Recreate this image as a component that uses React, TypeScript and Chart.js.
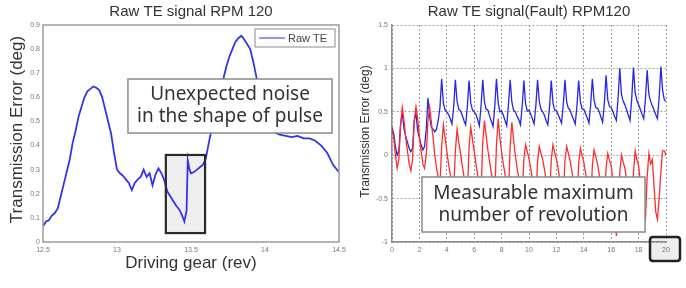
import React, { useEffect, useRef } from "react";
import { Chart, registerables } from "chart.js";
Chart.register(...registerables);

// ---------- Left chart data ----------
const leftTitle = "Raw TE signal RPM 120";
const leftXTitle = "Driving gear (rev)";
const leftYTitle = "Transmission Error (deg)";
const leftLegend = "Raw TE";
const leftNote = ["Unexpected noise", "in the shape of pulse"];
const gearRev = [
  12.5, 12.52, 12.54, 12.56, 12.58, 12.6, 12.62, 12.64, 12.66, 12.68, 12.7, 12.72, 12.74, 12.76, 12.78,
  12.8, 12.82, 12.84, 12.86, 12.88, 12.9, 12.92, 12.94, 12.96, 12.98, 13.0, 13.02, 13.04, 13.06, 13.08,
  13.1, 13.12, 13.14, 13.16, 13.18, 13.2, 13.22, 13.24, 13.26, 13.28, 13.3, 13.32, 13.34, 13.36, 13.38,
  13.4, 13.42, 13.44, 13.455, 13.47, 13.478, 13.49, 13.5, 13.52, 13.54, 13.56, 13.58, 13.6, 13.62, 13.64,
  13.66, 13.68, 13.7, 13.72, 13.74, 13.76, 13.78, 13.8, 13.82, 13.84, 13.86, 13.88, 13.9, 13.92, 13.94,
  13.96, 13.98, 14.0, 14.02, 14.04, 14.06, 14.08, 14.1, 14.14, 14.18, 14.22, 14.26, 14.3, 14.34, 14.38,
  14.42, 14.46, 14.5,
];
const rawTE = [
  0.065, 0.085, 0.09, 0.11, 0.12, 0.14, 0.19, 0.24, 0.29, 0.34, 0.41, 0.46, 0.52, 0.56, 0.6,
  0.625, 0.635, 0.645, 0.64, 0.63, 0.6, 0.55, 0.5, 0.45, 0.37, 0.3, 0.285, 0.275, 0.26, 0.245,
  0.215, 0.245, 0.26, 0.27, 0.3, 0.27, 0.285, 0.235, 0.28, 0.305, 0.285, 0.255, 0.21, 0.19, 0.17,
  0.15, 0.135, 0.11, 0.085, 0.13, 0.34, 0.3, 0.285, 0.29, 0.3, 0.31, 0.32, 0.345, 0.41, 0.47,
  0.54, 0.6, 0.64, 0.68, 0.73, 0.77, 0.8, 0.83, 0.845, 0.855, 0.84, 0.82, 0.8, 0.75, 0.69,
  0.63, 0.58, 0.54, 0.5, 0.47, 0.455, 0.45, 0.445, 0.44, 0.435, 0.44, 0.43, 0.43, 0.42, 0.4,
  0.37, 0.32, 0.29,
];
const pulseBox = { x0: 13.33, x1: 13.595, y0: 0.037, y1: 0.361 };
const leftNoteBox = { x0: 13.074, x1: 14.453, y0: 0.452, y1: 0.676 };

// ---------- Right chart data ----------
const rightTitle = "Raw TE signal(Fault) RPM120";
const rightYTitle = "Transmission Error (deg)";
const rightNote = ["Measurable maximum", "number of revolution"];
const revStep = 0.125;
const faultBlue = [
  0.32, 0.25, 0.1, 0.0, 0.05, 0.35, 0.5, 0.3,
  0.22, 0.15, 0.08, 0.04, 0.08, 0.4, 0.48, 0.28,
  0.2, 0.12, 0.06, 0.1, 0.3, 0.66, 0.45, 0.32,
  0.3, 0.27, 0.3, 0.4, 0.55, 0.88, 0.6, 0.52,
  0.5, 0.47, 0.42, 0.36, 0.55, 0.87, 0.62, 0.53,
  0.51, 0.46, 0.4, 0.35, 0.56, 0.86, 0.6, 0.52,
  0.5, 0.47, 0.41, 0.34, 0.57, 0.87, 0.61, 0.53,
  0.52, 0.45, 0.39, 0.33, 0.56, 0.88, 0.6, 0.5,
  0.51, 0.46, 0.4, 0.34, 0.58, 0.87, 0.61, 0.52,
  0.5, 0.45, 0.41, 0.35, 0.56, 0.86, 0.59, 0.51,
  0.52, 0.47, 0.42, 0.36, 0.57, 0.87, 0.62, 0.53,
  0.5, 0.46, 0.4, 0.35, 0.56, 0.86, 0.6, 0.52,
  0.51, 0.47, 0.42, 0.37, 0.58, 0.87, 0.61, 0.54,
  0.52, 0.46, 0.41, 0.36, 0.57, 0.86, 0.62, 0.53,
  0.53, 0.48, 0.43, 0.37, 0.58, 0.88, 0.63, 0.55,
  0.54, 0.5, 0.44, 0.38, 0.6, 0.92, 0.64, 0.56,
  0.55, 0.5, 0.45, 0.4, 0.65, 1.0, 0.7, 0.62,
  0.58, 0.52, 0.46, 0.4, 0.66, 1.01, 0.72, 0.63,
  0.58, 0.53, 0.47, 0.42, 0.65, 0.98, 0.7, 0.62,
  0.57, 0.52, 0.47, 0.42, 0.66, 1.02, 0.75, 0.64,
  0.62,
];
const faultRed = [
  0.3, 0.2, 0.0, -0.15, -0.05, 0.35, 0.55, 0.4,
  0.2, 0.05, -0.1, -0.18, -0.05, 0.4, 0.56, 0.42,
  0.22, 0.05, -0.1, -0.15, 0.0, 0.4, 0.55, 0.38,
  0.2, 0.0, -0.15, -0.25, -0.35, 0.1, 0.35, 0.2,
  0.05, -0.1, -0.22, -0.32, -0.42, 0.05, 0.3, 0.15,
  0.02, -0.12, -0.24, -0.34, -0.45, 0.1, 0.32, 0.18,
  0.05, -0.1, -0.22, -0.35, -0.44, 0.15, 0.4, 0.22,
  0.06, -0.08, -0.2, -0.33, -0.45, 0.12, 0.42, 0.2,
  0.04, -0.1, -0.22, -0.35, -0.46, 0.1, 0.38, 0.18,
  0.0, -0.14, -0.26, -0.38, -0.48, -0.05, 0.12, 0.04,
  -0.04, -0.15, -0.27, -0.38, -0.5, -0.08, 0.1, 0.02,
  -0.05, -0.16, -0.28, -0.4, -0.52, -0.05, 0.12, 0.03,
  -0.04, -0.15, -0.28, -0.4, -0.52, -0.06, 0.1, 0.02,
  -0.06, -0.18, -0.3, -0.42, -0.55, -0.1, 0.08, 0.0,
  -0.08, -0.2, -0.32, -0.45, -0.58, -0.12, 0.06, -0.02,
  -0.1, -0.22, -0.35, -0.5, -0.62, -0.15, 0.02, -0.06,
  -0.12, -0.3, -0.6, -0.93, -0.7, -0.2, 0.0, -0.08,
  -0.15, -0.3, -0.45, -0.6, -0.72, -0.2, 0.05, -0.05,
  -0.12, -0.3, -0.45, -0.62, -0.75, -0.25, 0.02, -0.1,
  -0.05, -0.35, -0.65, -0.74, -0.5, -0.2, 0.05, 0.05,
  0.0,
];
const rightNoteBox = { x0: 2.19, x1: 18.47, y0: -0.885, y1: -0.251 };
const markedTick = 20;

const SANS = '"Liberation Sans", Arial, sans-serif';
const NOTE_FONT = '"Noto Sans", "Open Sans", sans-serif';
const TEXT = "#333333";

const fmtTick = (v: any) => String(Math.round(Number(v) * 10) / 10);

function drawNote(ctx: CanvasRenderingContext2D, xs: any, ys: any, box: any, lines: string[]) {
  const l = xs.getPixelForValue(box.x0);
  const r = xs.getPixelForValue(box.x1);
  const t = ys.getPixelForValue(box.y1);
  const b = ys.getPixelForValue(box.y0);
  ctx.save();
  ctx.fillStyle = "#ffffff";
  ctx.fillRect(l, t, r - l, b - t);
  ctx.strokeStyle = "#8a8a8a";
  ctx.lineWidth = 1.5;
  ctx.strokeRect(l, t, r - l, b - t);
  ctx.fillStyle = TEXT;
  ctx.font = `19px ${NOTE_FONT}`;
  ctx.textAlign = "center";
  ctx.textBaseline = "middle";
  const cx = (l + r) / 2;
  const cy = (t + b) / 2;
  ctx.fillText(lines[0], cx, cy - 11);
  ctx.fillText(lines[1], cx, cy + 11);
  ctx.restore();
}

function drawTitle(ctx: CanvasRenderingContext2D, a: any, text: string) {
  ctx.save();
  ctx.fillStyle = TEXT;
  ctx.font = `15px ${SANS}`;
  ctx.textAlign = "center";
  ctx.textBaseline = "middle";
  ctx.fillText(text, (a.left + a.right) / 2, a.top - 13);
  ctx.restore();
}

function drawYTitle(ctx: CanvasRenderingContext2D, x: number, y: number, size: number, text: string) {
  ctx.save();
  ctx.translate(x, y);
  ctx.rotate(-Math.PI / 2);
  ctx.fillStyle = TEXT;
  ctx.font = `${size}px ${SANS}`;
  ctx.textAlign = "center";
  ctx.textBaseline = "middle";
  ctx.fillText(text, 0, 0);
  ctx.restore();
}

const leftPlugin = {
  id: "leftDecor",
  beforeDatasetsDraw(chart: any) {
    const { ctx, scales } = chart;
    const l = scales.x.getPixelForValue(pulseBox.x0);
    const r = scales.x.getPixelForValue(pulseBox.x1);
    const t = scales.y.getPixelForValue(pulseBox.y1);
    const b = scales.y.getPixelForValue(pulseBox.y0);
    ctx.save();
    ctx.fillStyle = "#efefef";
    ctx.fillRect(l, t, r - l, b - t);
    ctx.restore();
  },
  afterDraw(chart: any) {
    const { ctx, chartArea: a, scales } = chart;
    ctx.save();
    ctx.strokeStyle = "#9c9c9c";
    ctx.lineWidth = 1.5;
    ctx.strokeRect(a.left, a.top, a.right - a.left, a.bottom - a.top);
    // pulse highlight frame
    const l = scales.x.getPixelForValue(pulseBox.x0);
    const r = scales.x.getPixelForValue(pulseBox.x1);
    const t = scales.y.getPixelForValue(pulseBox.y1);
    const b = scales.y.getPixelForValue(pulseBox.y0);
    ctx.strokeStyle = "#2a2a2a";
    ctx.lineWidth = 2.2;
    ctx.strokeRect(l, t, r - l, b - t);
    // legend
    const lx0 = a.right - 84, lx1 = a.right - 4, ly0 = a.top + 4, ly1 = a.top + 22;
    ctx.fillStyle = "#ffffff";
    ctx.fillRect(lx0, ly0, lx1 - lx0, ly1 - ly0);
    ctx.strokeStyle = "#8a8a8a";
    ctx.lineWidth = 1;
    ctx.strokeRect(lx0, ly0, lx1 - lx0, ly1 - ly0);
    ctx.strokeStyle = "#5050ff";
    ctx.lineWidth = 1.2;
    ctx.beginPath();
    ctx.moveTo(lx0 + 4, (ly0 + ly1) / 2);
    ctx.lineTo(lx0 + 30, (ly0 + ly1) / 2);
    ctx.stroke();
    ctx.fillStyle = "#444";
    ctx.font = `11px ${SANS}`;
    ctx.textAlign = "left";
    ctx.textBaseline = "middle";
    ctx.fillText(leftLegend, lx0 + 33, (ly0 + ly1) / 2 + 0.5);
    ctx.restore();
    drawTitle(ctx, a, leftTitle);
    drawYTitle(ctx, 17, (a.top + a.bottom) / 2 - 4, 17, leftYTitle);
    ctx.save();
    ctx.fillStyle = TEXT;
    ctx.font = `17px ${SANS}`;
    ctx.textAlign = "center";
    ctx.textBaseline = "middle";
    ctx.fillText(leftXTitle, (a.left + a.right) / 2, a.bottom + 21);
    ctx.restore();
    drawNote(ctx, scales.x, scales.y, leftNoteBox, leftNote);
  },
};

function tickBox(chart: any) {
  const { scales, chartArea: a } = chart;
  const cx = scales.x.getPixelForValue(markedTick) - 1;
  return { l: cx - 15, r: cx + 15, t: a.bottom - 5, b: a.bottom + 19 };
}

function roundRectPath(ctx: CanvasRenderingContext2D, l: number, t: number, w: number, h: number, rr: number) {
  ctx.beginPath();
  ctx.moveTo(l + rr, t);
  ctx.lineTo(l + w - rr, t);
  ctx.quadraticCurveTo(l + w, t, l + w, t + rr);
  ctx.lineTo(l + w, t + h - rr);
  ctx.quadraticCurveTo(l + w, t + h, l + w - rr, t + h);
  ctx.lineTo(l + rr, t + h);
  ctx.quadraticCurveTo(l, t + h, l, t + h - rr);
  ctx.lineTo(l, t + rr);
  ctx.quadraticCurveTo(l, t, l + rr, t);
  ctx.closePath();
}

const rightPlugin = {
  id: "rightDecor",
  beforeDraw(chart: any) {
    const { ctx } = chart;
    const bx = tickBox(chart);
    ctx.save();
    roundRectPath(ctx, bx.l, bx.t, bx.r - bx.l, bx.b - bx.t, 3);
    ctx.fillStyle = "#eeeeee";
    ctx.fill();
    ctx.restore();
  },
  afterDraw(chart: any) {
    const { ctx, chartArea: a, scales } = chart;
    drawTitle(ctx, a, rightTitle);
    drawYTitle(ctx, 23, (a.top + a.bottom) / 2 - 2, 12, rightYTitle);
    drawNote(ctx, scales.x, scales.y, rightNoteBox, rightNote);
    const bx = tickBox(chart);
    ctx.save();
    roundRectPath(ctx, bx.l, bx.t, bx.r - bx.l, bx.b - bx.t, 3);
    ctx.strokeStyle = "#222222";
    ctx.lineWidth = 2.5;
    ctx.stroke();
    ctx.restore();
  },
};

const tickFont = { family: SANS, size: 7 };

function leftConfig(): any {
  return {
    type: "line",
    data: {
      datasets: [
        {
          label: leftLegend,
          data: gearRev.map((x, i) => ({ x, y: rawTE[i] })),
          borderColor: "#3434f0",
          borderWidth: 1.8,
          pointRadius: 0,
          tension: 0,
        },
      ],
    },
    options: {
      responsive: false,
      animation: false,
      layout: { padding: { left: 0, right: 13, top: 25, bottom: 0 } },
      plugins: { legend: { display: false }, title: { display: false }, tooltip: { enabled: false } },
      scales: {
        x: {
          type: "linear",
          min: 12.5,
          max: 14.5,
          ticks: { stepSize: 0.5, font: tickFont, color: "#777", padding: 4, maxRotation: 0, callback: fmtTick },
          grid: { display: false, drawTicks: false },
          border: { display: false },
          afterFit: (s: any) => {
            s.height = 46;
            s.paddingLeft = 0;
            s.paddingRight = 0;
          },
        },
        y: {
          type: "linear",
          min: 0,
          max: 0.9,
          ticks: { stepSize: 0.1, font: tickFont, color: "#777", padding: 3, callback: fmtTick },
          grid: { display: false, drawTicks: false },
          border: { display: false },
          afterFit: (s: any) => {
            s.width = 43;
          },
        },
      },
    },
    plugins: [leftPlugin],
  };
}

function rightConfig(): any {
  const gridOpts = { color: "#a0a0a0", lineWidth: 1, drawTicks: false };
  return {
    type: "line",
    data: {
      datasets: [
        {
          label: "Fault",
          data: faultRed.map((y, i) => ({ x: i * revStep, y })),
          borderColor: "#ff2d2d",
          borderWidth: 1.3,
          pointRadius: 0,
          tension: 0,
        },
        {
          label: "Normal",
          data: faultBlue.map((y, i) => ({ x: i * revStep, y })),
          borderColor: "#2626e6",
          borderWidth: 1.3,
          pointRadius: 0,
          tension: 0,
        },
      ],
    },
    options: {
      responsive: false,
      animation: false,
      layout: { padding: { left: 0, right: 20, top: 25, bottom: 0 } },
      plugins: { legend: { display: false }, title: { display: false }, tooltip: { enabled: false } },
      scales: {
        x: {
          type: "linear",
          min: 0,
          max: 20,
          ticks: { stepSize: 2, font: tickFont, color: "#777", padding: 4, maxRotation: 0, callback: fmtTick },
          grid: gridOpts,
          border: { display: true, color: "#8c8c8c", width: 1.5, dash: [2, 2] },
          afterFit: (s: any) => {
            s.height = 46;
            s.paddingLeft = 0;
            s.paddingRight = 0;
          },
        },
        y: {
          type: "linear",
          min: -1,
          max: 1.5,
          ticks: { stepSize: 0.5, font: tickFont, color: "#777", padding: 4, callback: fmtTick },
          grid: gridOpts,
          border: { display: true, color: "#8c8c8c", width: 1.5, dash: [2, 2] },
          afterFit: (s: any) => {
            s.width = 49;
          },
        },
      },
    },
    plugins: [rightPlugin],
  };
}

export default function App() {
  const leftRef = useRef<HTMLCanvasElement>(null);
  const rightRef = useRef<HTMLCanvasElement>(null);
  useEffect(() => {
    const c1 = new Chart(leftRef.current as HTMLCanvasElement, leftConfig());
    const c2 = new Chart(rightRef.current as HTMLCanvasElement, rightConfig());
    return () => {
      c1.destroy();
      c2.destroy();
    };
  }, []);
  return (
    <div style={{ position: "fixed", left: 0, top: 0, width: 686, height: 288, background: "#ffffff" }}>
      <canvas ref={leftRef} width={352} height={288} style={{ position: "absolute", left: 0, top: 0 }} />
      <canvas ref={rightRef} width={343} height={288} style={{ position: "absolute", left: 343, top: 0 }} />
    </div>
  );
}
